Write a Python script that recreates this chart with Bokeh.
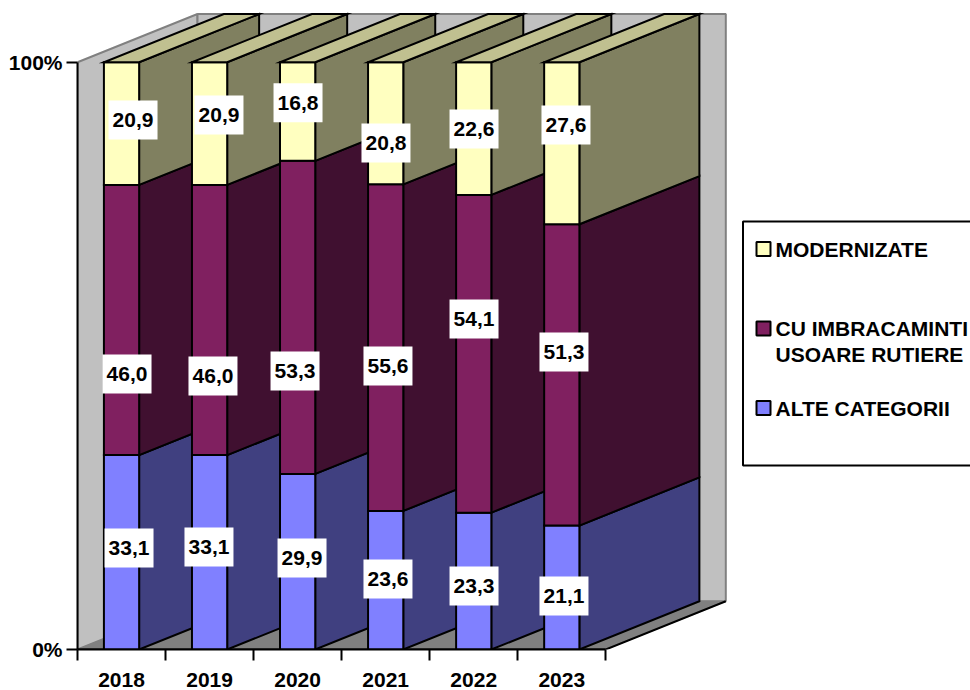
from bokeh.plotting import figure
from bokeh.models import ColumnDataSource, Range1d, LinearAxis, FixedTicker
from bokeh.core.properties import value
from bokeh.embed import file_html
from bokeh.resources import INLINE

years = ["2018", "2019", "2020", "2021", "2022", "2023"]
alte_categorii = [33.1, 33.1, 29.9, 23.6, 23.3, 21.1]
imbracaminti = [46.0, 46.0, 53.3, 55.6, 54.1, 51.3]
modernizate = [20.9, 20.9, 16.8, 20.8, 22.6, 27.6]
series_names = ["ALTE CATEGORII", "CU IMBRACAMINTI", "MODERNIZATE"]
y_tick_labels = {0: "0%", 100: "100%"}

front_colors = ["#8080FF", "#802060", "#FFFFC0"]
side_colors = ["#404080", "#401030", "#808060"]
top_color = "#C0C090"

# layout (px)
W, H = 970, 690
FRAME_L, FRAME_B = 77, 649          # frame left / bottom inside the canvas
PX_X, PX_Y = 88.05, 5.873           # px per category, px per percent
DEPTH_X, DEPTH_Y = 120 / PX_X, 48.2 / PX_Y
BAR_W = 0.4
FONT = "Liberation Sans"
FS = "21px"

# label offsets from the centre of each segment, px (right, down), [bottom, middle, top]
off_x = [[7.5, 5.5, 11.5], [-0.6, 3.4, 9.4], [4.4, -2.6, 0.4], [2.3, 2.3, 0.3], [0.3, 0.3, 0.3], [2.2, 2.2, 4.2]]
off_y = [[-4.3, 54, -3.5], [-5.3, 56, -8.5], [-3.7, 53.6, -8.7], [-1.2, 18.4, 19.7], [4.9, -34.8, 0.5], [8.5, -22.9, -18.2]]

def dx(page_x):
    return (page_x - FRAME_L) / PX_X

def dy(page_y):
    return (FRAME_B - page_y) / PX_Y

p = figure(width=W, height=H, output_backend="svg", toolbar_location=None,
           frame_width=W - FRAME_L, frame_height=FRAME_B,
           x_range=Range1d(0, (W - FRAME_L) / PX_X), y_range=Range1d(0, FRAME_B / PX_Y),
           x_axis_type=None, y_axis_type=None,
           min_border_left=FRAME_L, min_border_right=0, min_border_top=0, min_border_bottom=0,
           outline_line_color=None, background_fill_color="white", border_fill_color="white")
p.grid.visible = False

n = len(years)
# walls and floor
p.patch([0, DEPTH_X, DEPTH_X, 0], [100, 100 + DEPTH_Y, DEPTH_Y, 0], fill_color="#C0C0C0", line_color="#808080", line_width=2)
p.patch([DEPTH_X, n + DEPTH_X, n + DEPTH_X, DEPTH_X], [DEPTH_Y, DEPTH_Y, 100 + DEPTH_Y, 100 + DEPTH_Y],
        fill_color="#C0C0C0", line_color="#808080", line_width=2)
p.patch([0, n, n + DEPTH_X, DEPTH_X], [0, 0, DEPTH_Y, DEPTH_Y], fill_color="#808080", line_color="#808080", line_width=1)
p.line([0, n, n + DEPTH_X], [0, 0, DEPTH_Y], line_color="black", line_width=2)

# stacked 3-D columns, painted from left to right
xs, ys, fills = [], [], []
lab_x, lab_y, lab_text = [], [], []
stacks = [alte_categorii, imbracaminti, modernizate]
for i in range(n):
    x0, x1 = i + 0.5 - BAR_W / 2, i + 0.5 + BAR_W / 2
    base = 0.0
    for s, vals in enumerate(stacks):
        top = base + vals[i]
        xs.append([x1, x1 + DEPTH_X, x1 + DEPTH_X, x1])
        ys.append([base, base + DEPTH_Y, top + DEPTH_Y, top])
        fills.append(side_colors[s])
        xs.append([x0, x1, x1, x0])
        ys.append([base, base, top, top])
        fills.append(front_colors[s])
        lab_x.append(i + 0.5 + off_x[i][s] / PX_X)
        lab_y.append((base + top) / 2 - off_y[i][s] / PX_Y)
        lab_text.append(f"{vals[i]:.1f}".replace(".", ","))
        base = top
    xs.append([x0, x1, x1 + DEPTH_X, x0 + DEPTH_X])
    ys.append([base, base, base + DEPTH_Y, base + DEPTH_Y])
    fills.append(top_color)

p.patches("xs", "ys", fill_color="fills", line_color="black", line_width=2, line_join="miter",
          source=ColumnDataSource(dict(xs=xs, ys=ys, fills=fills)))

# data labels
lab = ColumnDataSource(dict(x=lab_x, y=lab_y, t=lab_text))
p.rect("x", "y", width=49, height=39, width_units="screen", height_units="screen",
       fill_color="white", line_color=None, source=lab)
p.text("x", "y", text="t", source=lab, text_align="center", text_baseline="middle",
       text_font=value(FONT), text_font_style="bold", text_font_size=value(FS), text_color="black")

# axes
y_axis = LinearAxis(ticker=FixedTicker(ticks=list(y_tick_labels)), bounds=(0, 100),
                    major_label_overrides=y_tick_labels, major_tick_out=11, major_tick_in=0,
                    major_tick_line_width=2, axis_line_width=2, major_label_standoff=4,
                    major_label_text_font=FONT, major_label_text_font_style="bold",
                    major_label_text_font_size=FS, major_label_text_color="black", minor_tick_line_color=None)
p.add_layout(y_axis, "left")
centres = [i + 0.5 for i in range(n)]
x_axis = LinearAxis(ticker=FixedTicker(ticks=centres, minor_ticks=list(range(n + 1))), bounds=(0, n),
                    major_label_overrides=dict(zip(centres, years)), major_tick_line_color=None,
                    minor_tick_out=11, minor_tick_in=0, minor_tick_line_width=2, minor_tick_line_color="black",
                    major_tick_out=0, major_tick_in=0,
                    axis_line_width=2, major_label_standoff=12,
                    major_label_text_font=FONT, major_label_text_font_style="bold",
                    major_label_text_font_size=FS, major_label_text_color="black")
p.add_layout(x_axis, "below")

# legend
p.quad(left=[dx(742.5)], right=[dx(980)], top=[dy(221)], bottom=[dy(465)],
       fill_color="white", line_color="black", line_width=2)
leg_cols = [front_colors[2], front_colors[1], front_colors[0]]
leg_y = [248.5, 328, 407.5]
p.rect([dx(763)] * 3, [dy(v) for v in leg_y], width=14, height=14, width_units="screen", height_units="screen",
       fill_color=leg_cols, line_color="black", line_width=2)
leg_labels = ["MODERNIZATE", "CU IMBRACAMINTI", "USOARE RUTIERE", "ALTE CATEGORII"]
leg_ty = [248.5, 328, 353.5, 407.5]
p.text([dx(775)] * 4, [dy(v) for v in leg_ty], text=leg_labels, text_align="left", text_baseline="middle",
       text_font=value(FONT), text_font_style="bold", text_font_size=value(FS), text_color="black")

open("out.html", "w").write(file_html(p, INLINE))
